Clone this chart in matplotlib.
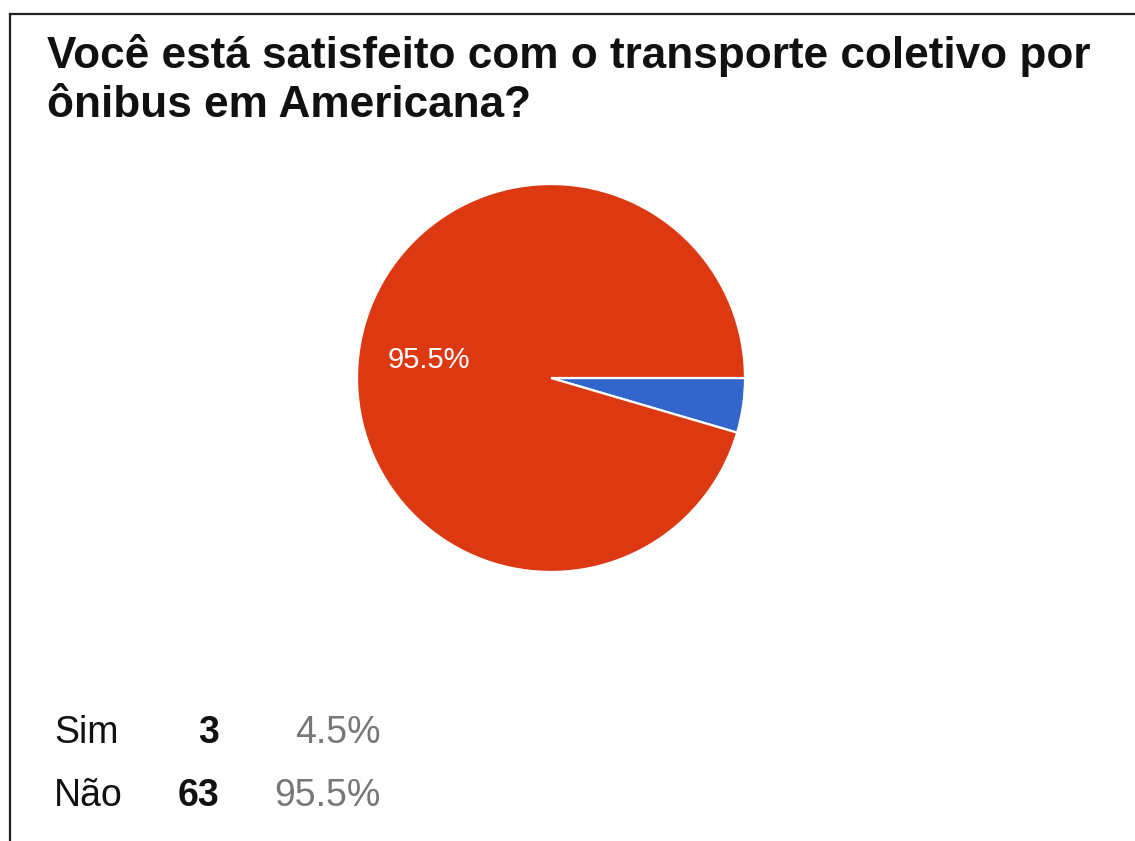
import matplotlib.pyplot as plt
from matplotlib.lines import Line2D

plt.rcParams['font.family'] = ['Liberation Sans', 'DejaVu Sans']

# survey answers
titulo = ["Você está satisfeito com o transporte coletivo por", "ônibus em Americana?"]
respostas = ["Sim", "Não"]
contagens = [3, 63]
cores = ["#3366CC", "#DC3912"]

W, H = 1135, 841
fig = plt.figure(figsize=(W / 100, H / 100), dpi=100)

def px(x, y):
    # pixel position (from top-left) to figure fraction
    return x / W, 1 - y / H

# frame lines on the left and top
fig.add_artist(Line2D([10 / W, 10 / W], [0, 1 - 14 / H], color="#222222", lw=1.6))
fig.add_artist(Line2D([10 / W, 1], [1 - 14 / H, 1 - 14 / H], color="#222222", lw=1.6))

# title, one text per line so the baselines sit where they should
for linha, y in zip(titulo, [68, 117]):
    fig.text(*px(47, y), linha, fontsize=31.8, fontweight="bold", color="#111111",
             ha="left", va="baseline")

# pie
cx, cy, r = 551, 378, 194
ax = fig.add_axes([(cx - r) / W, (H - cy - r) / H, 2 * r / W, 2 * r / H])
total = sum(contagens)

def rotulo(p):
    return "%.1f%%" % p if p > 10 else ""

ax.pie(contagens, colors=cores, startangle=0, counterclock=False, radius=1,
       autopct=rotulo, pctdistance=0.635,
       wedgeprops=dict(edgecolor="white", linewidth=1.6),
       textprops=dict(color="white", fontsize=21))
ax.set_xlim(-1, 1)
ax.set_ylim(-1, 1)
ax.set_aspect("equal")
ax.axis("off")

# summary table under the pie
linhas_y = [743, 806]
for nome, n, y in zip(respostas, contagens, linhas_y):
    fig.text(*px(54, y), nome, fontsize=27, color="#111111", ha="left", va="baseline")
    fig.text(*px(219, y), str(n), fontsize=27, fontweight="bold", color="#111111",
             ha="right", va="baseline")
    fig.text(*px(381, y), "%.1f%%" % (100 * n / total), fontsize=27, color="#777777",
             ha="right", va="baseline")

fig.savefig("out.png", dpi=100)
